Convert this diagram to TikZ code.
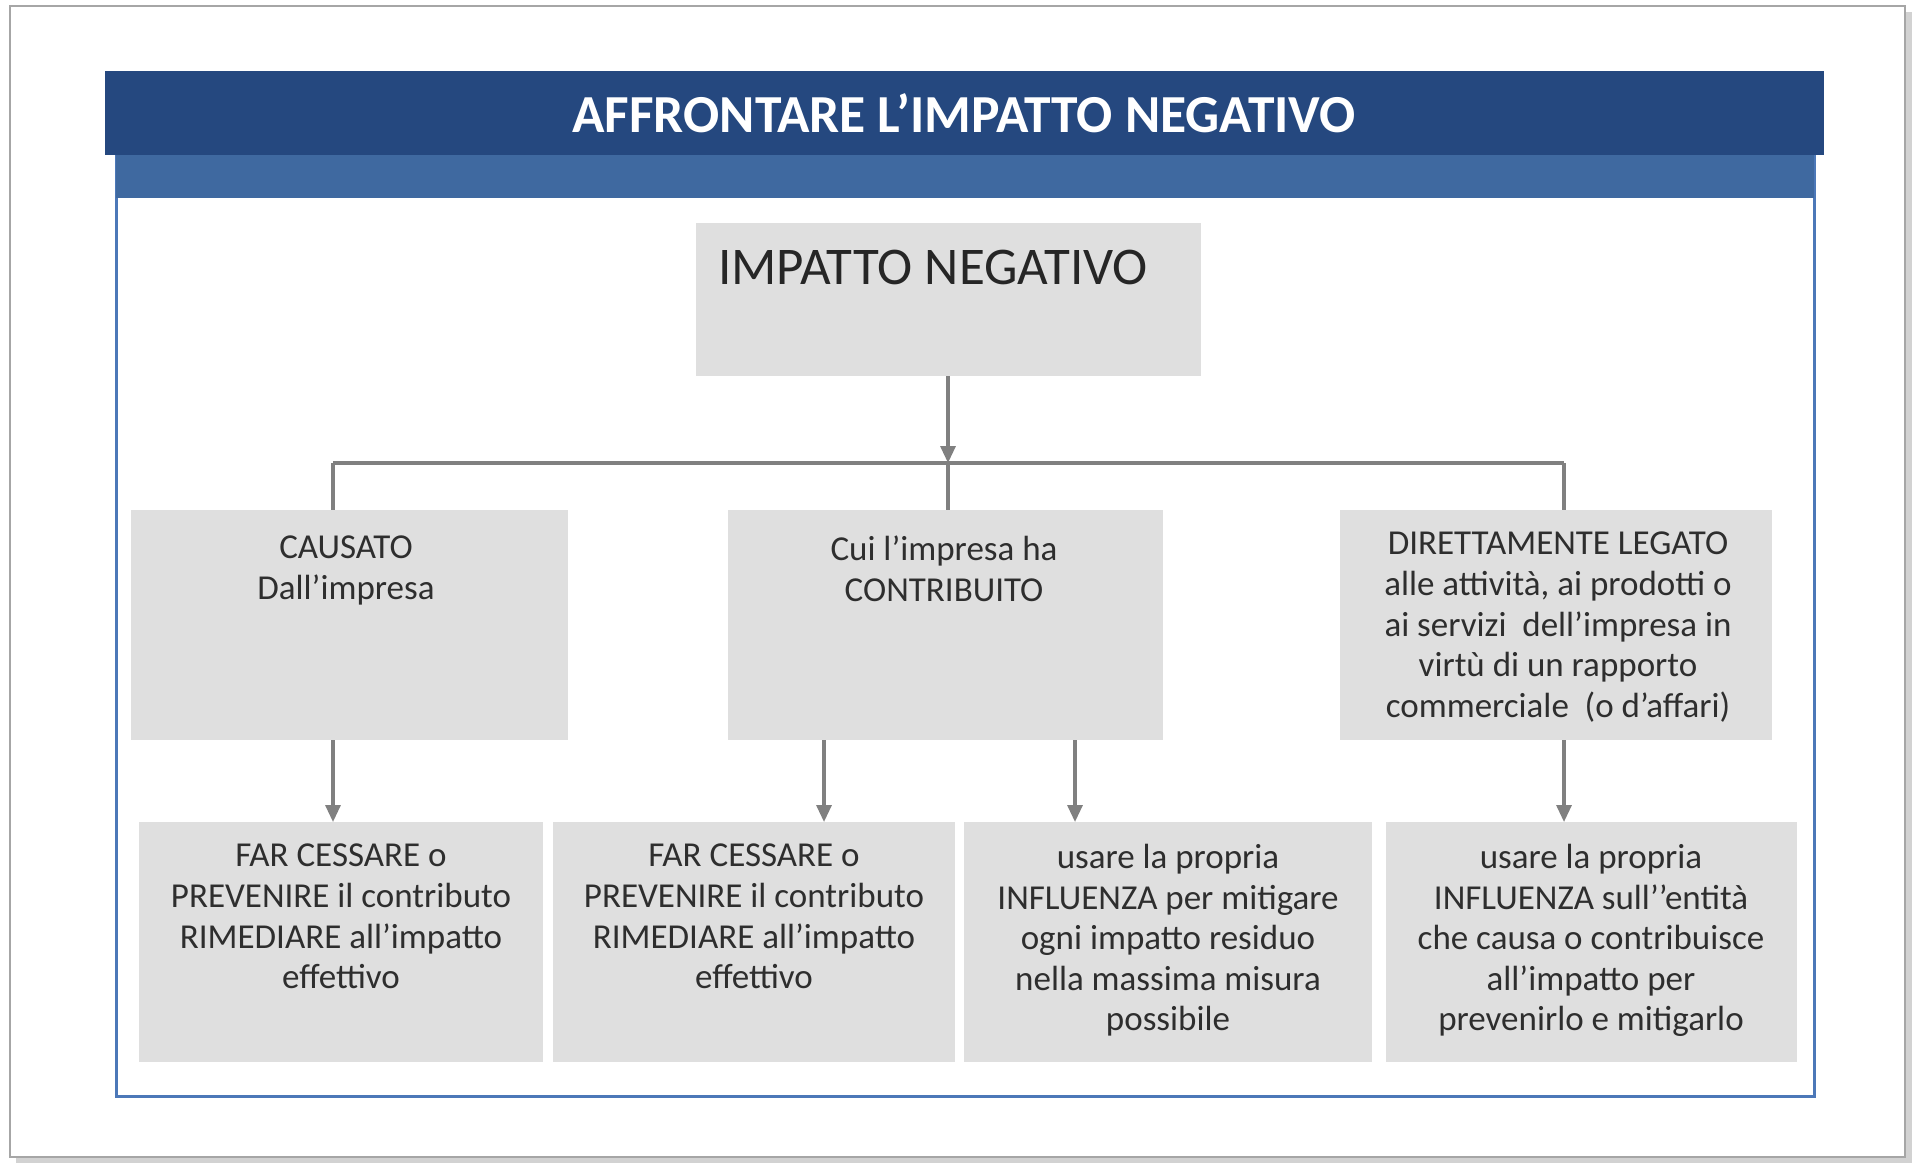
\documentclass[tikz,border=0pt]{standalone}
\usepackage{fontspec}
\setmainfont{Carlito}
\usetikzlibrary{arrows.meta}
\definecolor{navy}{HTML}{25487F}
\definecolor{band}{HTML}{3F69A0}
\definecolor{frameblue}{HTML}{4C78B8}
\definecolor{boxgray}{HTML}{DFDFDF}
\definecolor{txtgray}{HTML}{2E2E2E}
\definecolor{conngray}{HTML}{808080}
\begin{document}
\begin{tikzpicture}[x=1pt,y=-1pt,
  gbox/.style={fill=boxgray, draw=none, inner sep=0pt, anchor=north west},
  txt/.style={text=txtgray, align=center, inner sep=0pt, anchor=north,
    font=\fontsize{35}{40.6}\selectfont, execute at begin node=\strut},
  conn/.style={draw=conngray, line width=3.2pt},
  arr/.style={conn, -{Triangle[width=15pt,length=17pt]}}
]
\useasboundingbox (0,0) rectangle (1914,1175);
% page
\fill[gray!35] (16,12) rectangle (1912,1163);
\draw[fill=white, draw=gray!70, line width=1.5pt] (10,6) rectangle (1905,1157);
% frame
\draw[draw=frameblue, line width=3pt, fill=white] (116,155) rectangle (1814,1096);
\fill[band] (116,155) rectangle (1814,198);
\fill[navy] (105,71) rectangle (1824,155);
\node[text=white, font=\bfseries\fontsize{53.5}{60}\selectfont, inner sep=0pt] (title) at (964,113) {AFFRONTARE L’IMPATTO NEGATIVO};
% top box
\node[gbox, minimum width=505pt, minimum height=153pt] (imp) at (696,223) {};
\node[text=black!85, font=\fontsize{53}{60}\selectfont, inner sep=0pt, anchor=west] (impt) at (718,267) {IMPATTO NEGATIVO};
% middle boxes
\node[gbox, minimum width=437pt, minimum height=230pt] (c1) at (131,510) {};
\node[gbox, minimum width=435pt, minimum height=230pt] (c2) at (728,510) {};
\node[gbox, minimum width=432pt, minimum height=230pt] (c3) at (1340,510) {};
\node[txt] (c1t) at (346,536) {CAUSATO\\Dall’impresa};
\node[txt] (c2t) at (944,536) {Cui l’impresa ha\\CONTRIBUITO};
\node[txt] (c3t) at (1558,532) {DIRETTAMENTE LEGATO\\alle attività, ai prodotti o\\ai servizi~ dell’impresa in\\virtù di un rapporto\\commerciale~ (o d’affari)};
% bottom boxes
\node[gbox, minimum width=404pt, minimum height=240pt] (b1) at (139,822) {};
\node[gbox, minimum width=402pt, minimum height=240pt] (b2) at (553,822) {};
\node[gbox, minimum width=408pt, minimum height=240pt] (b3) at (964,822) {};
\node[gbox, minimum width=411pt, minimum height=240pt] (b4) at (1386,822) {};
\node[txt] (b1t) at (341,844) {FAR CESSARE o\\PREVENIRE il contributo\\RIMEDIARE all’impatto\\effettivo};
\node[txt] (b2t) at (754,844) {FAR CESSARE o\\PREVENIRE il contributo\\RIMEDIARE all’impatto\\effettivo};
\node[txt] (b3t) at (1168,844) {usare la propria\\INFLUENZA per mitigare\\ogni impatto residuo\\nella massima misura\\possibile};
\node[txt] (b4t) at (1591,844) {usare la propria\\INFLUENZA sull’’entità\\che causa o contribuisce\\all’impatto per\\prevenirlo e mitigarlo};
% connectors
\coordinate (j1) at (333,463);
\coordinate (j2) at (948,463);
\coordinate (j3) at (1564,463);
\coordinate (a2) at (824,0);
\coordinate (a3) at (1075,0);
\draw[arr] (imp.south -| j2) -- (j2);
\draw[conn] (j1) -- (j3);
\draw[conn] (j1) -- (j1 |- c1.north);
\draw[conn] (j2) -- (j2 |- c2.north);
\draw[conn] (j3) -- (j3 |- c3.north);
\draw[arr] (c1.south -| j1) -- (b1.north -| j1);
\draw[arr] (c2.south -| a2) -- (b2.north -| a2);
\draw[arr] (c2.south -| a3) -- (b3.north -| a3);
\draw[arr] (c3.south -| j3) -- (b4.north -| j3);
\end{tikzpicture}
\end{document}
